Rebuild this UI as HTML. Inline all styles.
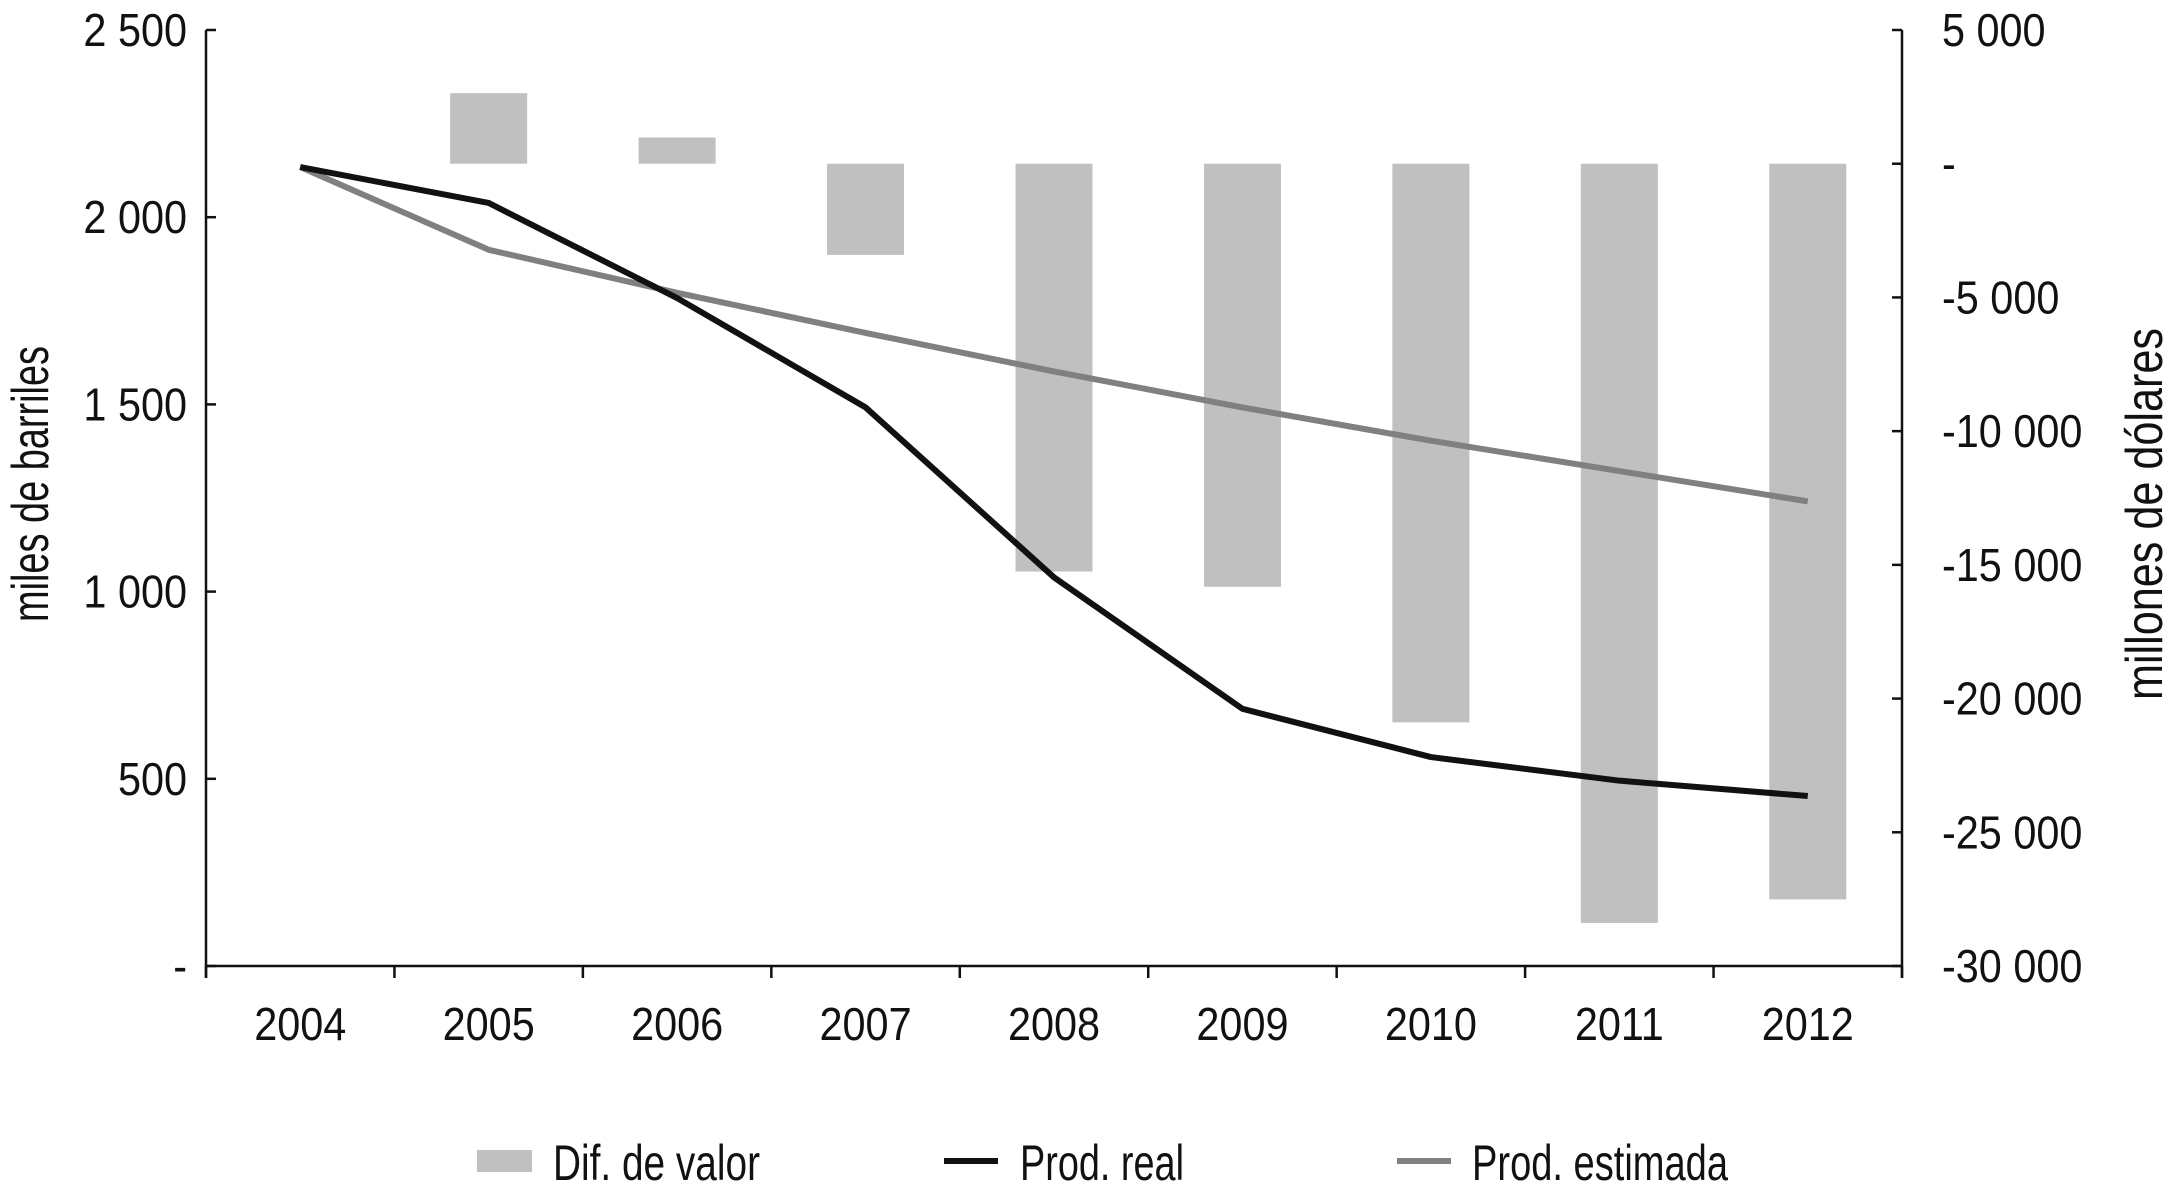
<!DOCTYPE html>
<html><head><meta charset="utf-8"><style>
html,body{margin:0;padding:0;background:#fff;}
svg{display:block;}
text{font-family:"Liberation Sans Narrow","Liberation Sans",sans-serif;fill:#111;}
</style></head><body>
<svg id="chart" width="2167" height="1185" viewBox="0 0 2167 1185" xmlns="http://www.w3.org/2000/svg"></svg>
<script>
const categories = ["2004","2005","2006","2007","2008","2009","2010","2011","2012"];
const difValor = [0, 2640, 980, -3410, -15250, -15820, -20890, -28390, -27510];
const prodReal = [2134, 2038, 1784, 1492, 1038, 687, 558, 495, 454];
const prodEstimada = [2134, 1913, 1798, 1691, 1588, 1492, 1403, 1322, 1241];
const leftTicks = [0, 500, 1000, 1500, 2000, 2500];
const leftTickLabels = ["-", "500", "1 000", "1 500", "2 000", "2 500"];
const rightTicks = [5000, 0, -5000, -10000, -15000, -20000, -25000, -30000];
const rightTickLabels = ["5 000", "-", "-5 000", "-10 000", "-15 000", "-20 000", "-25 000", "-30 000"];

const svg = document.getElementById('chart');
const NS = 'http://www.w3.org/2000/svg';
const X0 = 206, X1 = 1902, YT = 30, YB = 966;
const step = (X1 - X0) / categories.length;
const xC = i => X0 + step * (i + 0.5);
const yL = v => YB - (v / 2500) * (YB - YT);
const yR = v => YB - ((v + 30000) / 35000) * (YB - YT);
function mk(tag, attrs, parent) {
  const e = document.createElementNS(NS, tag);
  for (const k in attrs) e.setAttribute(k, attrs[k]);
  (parent || svg).appendChild(e);
  return e;
}
function ctext(x, y, s, anchor, size, parent) {
  const t = mk('text', {'text-anchor': anchor, 'font-size': size, transform: 'translate(' + x + ',' + y + ') scale(0.9,1)'}, parent);
  t.textContent = s;
  return t;
}
difValor.forEach((v, i) => {
  if (v === 0) return;
  const y0 = yR(0), y1 = yR(v);
  const r = mk('rect', {x: xC(i) - 38.5, y: Math.min(y0, y1), width: 77, height: Math.abs(y1 - y0), fill: '#c0c0c0'});
  
  
});
function line(data, color, name) {
  const p = mk('polyline', {points: data.map((v, i) => xC(i) + ',' + yL(v)).join(' '), fill: 'none', stroke: color, 'stroke-width': 6, 'stroke-linejoin': 'round'});
  
  
}
line(prodEstimada, '#808080', 'line-prod-estimada');
line(prodReal, '#111', 'line-prod-real');
const axes = mk('g', {stroke: '#111', 'stroke-width': 2.5, fill: 'none'});


mk('line', {x1: X0, y1: YT, x2: X0, y2: YB + 12}, axes);
mk('line', {x1: X1, y1: YT, x2: X1, y2: YB + 12}, axes);
mk('line', {x1: X0, y1: YB, x2: X1, y2: YB}, axes);
for (let i = 0; i <= categories.length; i++) mk('line', {x1: X0 + step * i, y1: YB, x2: X0 + step * i, y2: YB + 12}, axes);
leftTicks.forEach((v, i) => {
  mk('line', {x1: X0, y1: yL(v), x2: X0 + 10, y2: yL(v)}, axes);
  const t = ctext(187, yL(v) + 16, leftTickLabels[i], 'end', 46);
  
  
});
rightTicks.forEach((v, i) => {
  mk('line', {x1: X1 - 10, y1: yR(v), x2: X1, y2: yR(v)}, axes);
  const t = ctext(1942, yR(v) + 16, rightTickLabels[i], 'start', 46);
  
  
});
categories.forEach((c, i) => {
  const t = ctext(xC(i), 1040, c, 'middle', 46);
  
  
});
const yt1 = mk('text', {x: 0, y: 0, 'text-anchor': 'middle', 'font-size': 52, textLength: 276, lengthAdjust: 'spacingAndGlyphs', transform: 'translate(48,484) rotate(-90)'});
yt1.textContent = 'miles de barriles';


const yt2 = mk('text', {x: 0, y: 0, 'text-anchor': 'middle', 'font-size': 52, textLength: 372, lengthAdjust: 'spacingAndGlyphs', transform: 'translate(2162,514) rotate(-90)'});
yt2.textContent = 'millones de dólares';


const lg = mk('g', {});


mk('rect', {x: 477, y: 1150, width: 55, height: 22, fill: '#c0c0c0'}, lg);
mk('line', {x1: 944, y1: 1161, x2: 998, y2: 1161, stroke: '#111', 'stroke-width': 6}, lg);
mk('line', {x1: 1397, y1: 1161, x2: 1451, y2: 1161, stroke: '#808080', 'stroke-width': 6}, lg);
[[553, 'Dif. de valor', 207], [1020, 'Prod. real', 164], [1472, 'Prod. estimada', 256]].forEach(([x, s, w]) => {
  const t = mk('text', {x: x, y: 1180, 'font-size': 50, textLength: w, lengthAdjust: 'spacingAndGlyphs'}, lg);
  t.textContent = s;
  
  
});
</script>
</body></html>
